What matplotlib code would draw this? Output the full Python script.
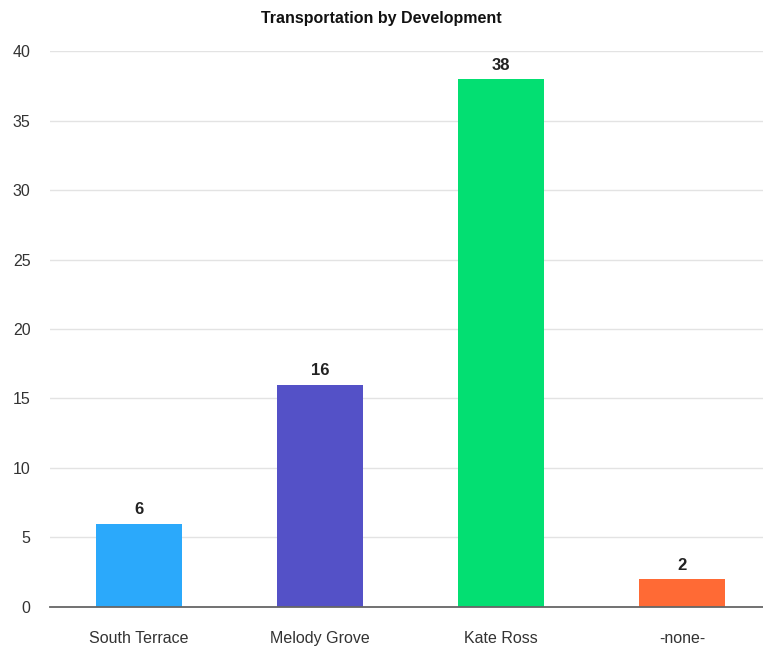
import matplotlib.pyplot as plt

categories = ["South Terrace", "Melody Grove", "Kate Ross", "-none-"]
values = [6, 16, 38, 2]
colors = ["#2ba9fb", "#5451c7", "#03df72", "#ff6a35"]
yticks = [0, 5, 10, 15, 20, 25, 30, 35, 40]

plt.rcParams['font.family'] = ['Liberation Sans', 'DejaVu Sans']

fig = plt.figure(figsize=(7.63, 6.5), dpi=100)
ax = fig.add_axes([0.0655, 0.0662, 0.9345, 0.8553])

x = list(range(len(categories)))
bars = ax.bar(x, values, width=0.475, color=colors, zorder=3)
for xi, v in zip(x, values):
    ax.text(xi, v + 0.45, str(v), ha='center', va='bottom',
            fontsize=12, fontweight='bold', color='#222222')

ax.set_xlim(-0.49, 3.447)
ax.set_ylim(0, 40)
ax.set_yticks(yticks)
ax.set_xticks(x)
ax.set_xticklabels(categories)
ax.tick_params(axis='both', length=0, labelsize=11.5, colors='#333333')
ax.tick_params(axis='x', pad=17)
ax.tick_params(axis='y', pad=14)
ax.grid(axis='y', color='#e3e3e3', linewidth=1, zorder=0)
for s in ['top', 'right', 'left']:
    ax.spines[s].set_visible(False)
ax.spines['bottom'].set_color('#666666')
ax.spines['bottom'].set_linewidth(1.3)
ax.spines['bottom'].set_zorder(4)

fig.text(0.5, 0.972, "Transportation by Development", ha='center', va='center',
         fontsize=11.5, fontweight='bold', color='#111111')

fig.savefig("out.png", dpi=100)
